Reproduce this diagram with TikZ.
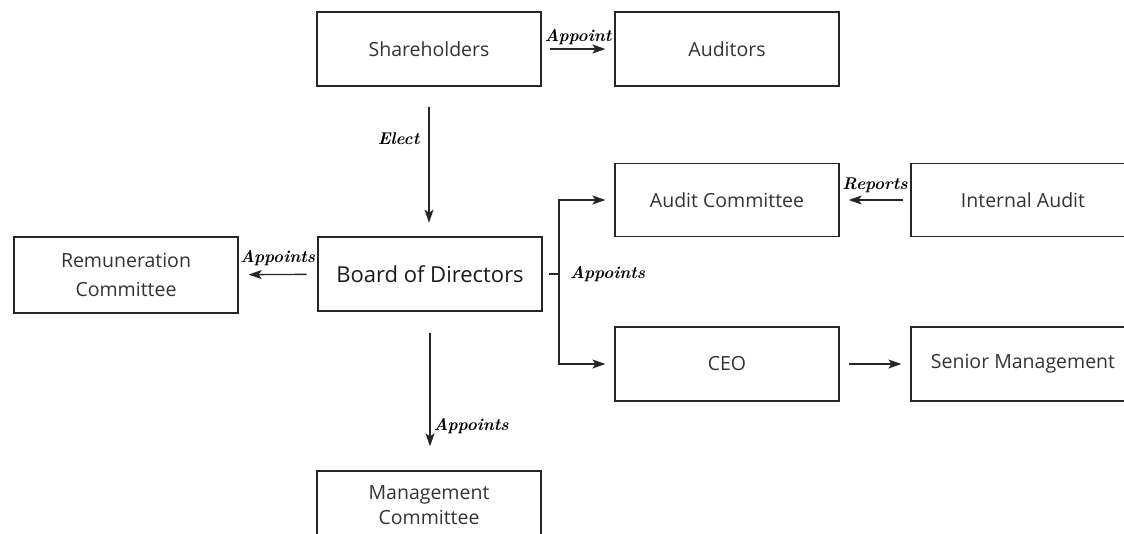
\documentclass[tikz,border=0pt]{standalone}
\usepackage{fontspec}
\setmainfont{Open Sans}
\newfontfamily\handfont{Latin Modern Roman}
\usetikzlibrary{arrows.meta}
\begin{document}
\begin{tikzpicture}[x=1pt,y=-1pt,
  box/.style={draw=black!85,line width=1.2pt,minimum width=224pt,minimum height=74pt,
    inner sep=0pt,align=center,font=\fontsize{19.5}{29}\selectfont\color{black!80}},
  mainbox/.style={box,line width=2.6pt,font=\fontsize{22}{26}\selectfont\color{black!90}},
  arr/.style={line width=1.4pt,draw=black!85,-{Stealth[length=13pt,width=9pt,inset=3pt]}},
  conn/.style={line width=1.4pt,draw=black!85},
  lbl/.style={font=\handfont\itshape\bfseries\fontsize{17}{19}\selectfont,inner sep=1pt}]
\useasboundingbox (0,0) rectangle (1124,533);
\clip (0,0) rectangle (1124,533);
% boxes
\node[box] (sh) at (429,49) {Shareholders};
\node[box] (aud) at (727,49) {Auditors};
\node[mainbox] (bod) at (430,274) {Board of Directors};
\node[box,minimum height=76pt] (rem) at (126,275) {Remuneration\\Committee};
\node[box,minimum height=73pt] (ac) at (727,200) {Audit Committee};
\node[box,minimum height=73pt] (ia) at (1023,200) {Internal Audit};
\node[box] (ceo) at (727,364) {CEO};
\node[box] (sm) at (1023,364) {Senior Management};
\node[box,minimum height=68pt,font=\fontsize{19.5}{25}\selectfont\color{black!80}] (mc) at (429,505) {Management\\Committee};
% connectors
\draw[arr,shorten <=8pt,shorten >=9pt] (sh) -- (aud) node[lbl,midway,above=3pt] {Appoint};
\draw[arr,shorten <=20pt,shorten >=13pt] (sh) -- (sh|-bod.north) node[lbl,pos=0.35,left=8pt] {Elect};
\draw[arr,shorten <=10pt,shorten >=10pt] (bod) -- (rem) node[lbl,midway,above=7pt] {Appoints};
\coordinate (j) at (559,274);
\draw[conn,shorten <=6pt] (bod.east) -- (j);
\draw[arr,shorten >=9pt] (j) |- (ac.west);
\draw[arr,shorten >=9pt] (j) |- (ceo.west);
\node[lbl,right=10pt] (ap2) at (j) {Appoints};
\draw[arr,shorten <=7pt,shorten >=9pt] (ia) -- (ac) node[lbl,midway,above=6pt] {Reports};
\draw[arr,shorten <=9pt,shorten >=9pt] (ceo) -- (sm);
\draw[arr,shorten <=21pt,shorten >=24pt] (bod.south) -- (bod.south|-mc.north) node[lbl,pos=0.72,right=2pt] {Appoints};
\end{tikzpicture}
\end{document}
